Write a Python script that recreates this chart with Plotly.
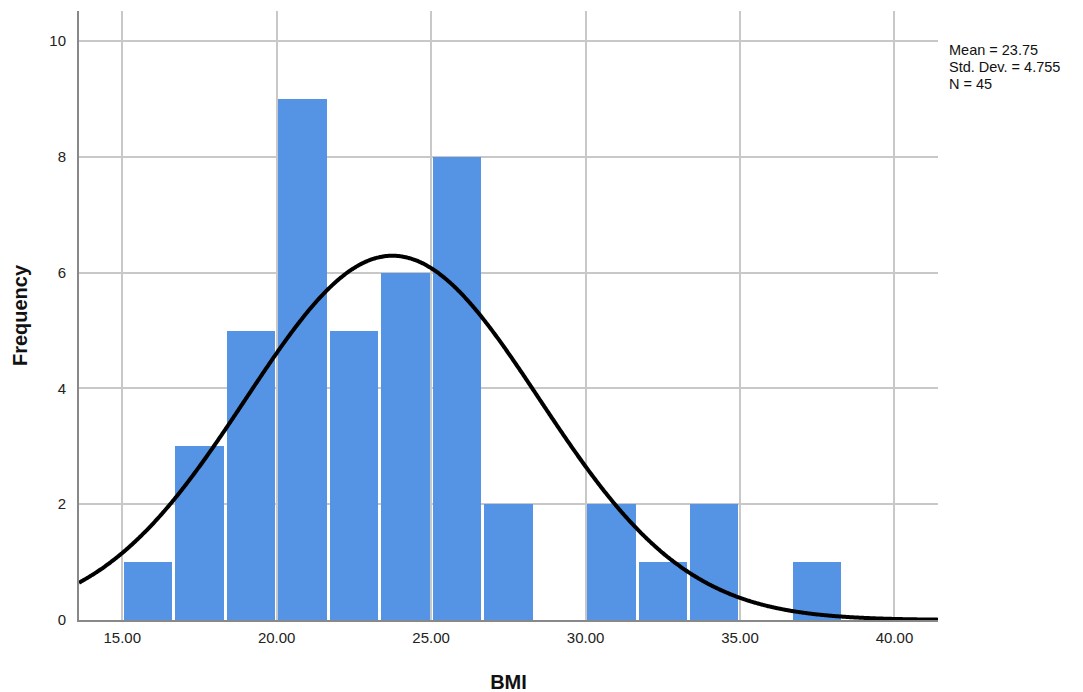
import numpy as np
import plotly.graph_objects as go

# Histogram data (BMI)
bin_start = 15.0
bin_width = 25.0 / 15.0
counts = [1, 3, 5, 9, 5, 6, 8, 2, 0, 2, 1, 2, 0, 1]
mean_bmi = 23.75
sd_bmi = 4.755
n_obs = 45
x_tick_vals = [15, 20, 25, 30, 35, 40]
y_tick_vals = [0, 2, 4, 6, 8, 10]
stat_lines = [f"Mean = {mean_bmi:.2f}", f"Std. Dev. = {sd_bmi:.3f}", f"N = {n_obs}"]

centers = [bin_start + bin_width * (i + 0.5) for i in range(len(counts))]

x_range = [13.6, 41.41]
xs = np.linspace(x_range[0], x_range[1], 600)
ys = n_obs * bin_width / (sd_bmi * np.sqrt(2 * np.pi)) * np.exp(-0.5 * ((xs - mean_bmi) / sd_bmi) ** 2)

W, H = 1083, 692
OFF = 8  # default page body margin
ML, MR, MT, MB = 79 - OFF, W - (938 - OFF), 11 - OFF, H - (620 - OFF)
pw, ph = W - ML - MR, H - MT - MB

fig = go.Figure()
fig.add_trace(go.Bar(
    x=centers, y=counts, width=bin_width * 0.94,
    marker=dict(color="rgb(85,148,228)", line=dict(width=0)),
    hoverinfo="x+y", showlegend=False,
))
fig.add_trace(go.Scatter(
    x=xs, y=ys, mode="lines", line=dict(color="black", width=4, shape="spline"),
    showlegend=False, hoverinfo="skip",
))

line_centers = [50.5, 67, 83.5]  # page pixel y centers
annotations = []
for txt, yc in zip(stat_lines, line_centers):
    annotations.append(dict(
        x=(947 - 79) / pw, y=(620 - yc) / ph, xref="paper", yref="paper",
        xanchor="left", yanchor="middle", align="left", showarrow=False,
        text=txt, font=dict(size=14.5, color="#111"),
    ))

fig.update_layout(
    width=W, height=H,
    margin=dict(l=ML, r=MR, t=MT, b=MB),
    plot_bgcolor="white", paper_bgcolor="white",
    font=dict(family="Liberation Sans, Arial, sans-serif", color="#222", size=15),
    bargap=0,
    annotations=annotations,
)

fig.update_xaxes(
    range=x_range, tickvals=x_tick_vals, tickformat=".2f", automargin=False,
    showgrid=True, gridcolor="#c8c8c8", gridwidth=1.5,
    showline=True, linecolor="#888", linewidth=2,
    ticks="", zeroline=False, ticklabelstandoff=3,
    title=dict(text="<b>BMI</b>", font=dict(size=20, color="#111"), standoff=30),
)
fig.update_yaxes(
    range=[0, 10.52], tickvals=y_tick_vals, automargin=False,
    showgrid=True, gridcolor="#c8c8c8", gridwidth=1.5,
    showline=True, linecolor="#888", linewidth=2,
    ticks="", zeroline=False, ticklabelstandoff=8,
    title=dict(text="<b>Frequency</b>", font=dict(size=20, color="#111"), standoff=16),
)

fig.write_html("out.html")
